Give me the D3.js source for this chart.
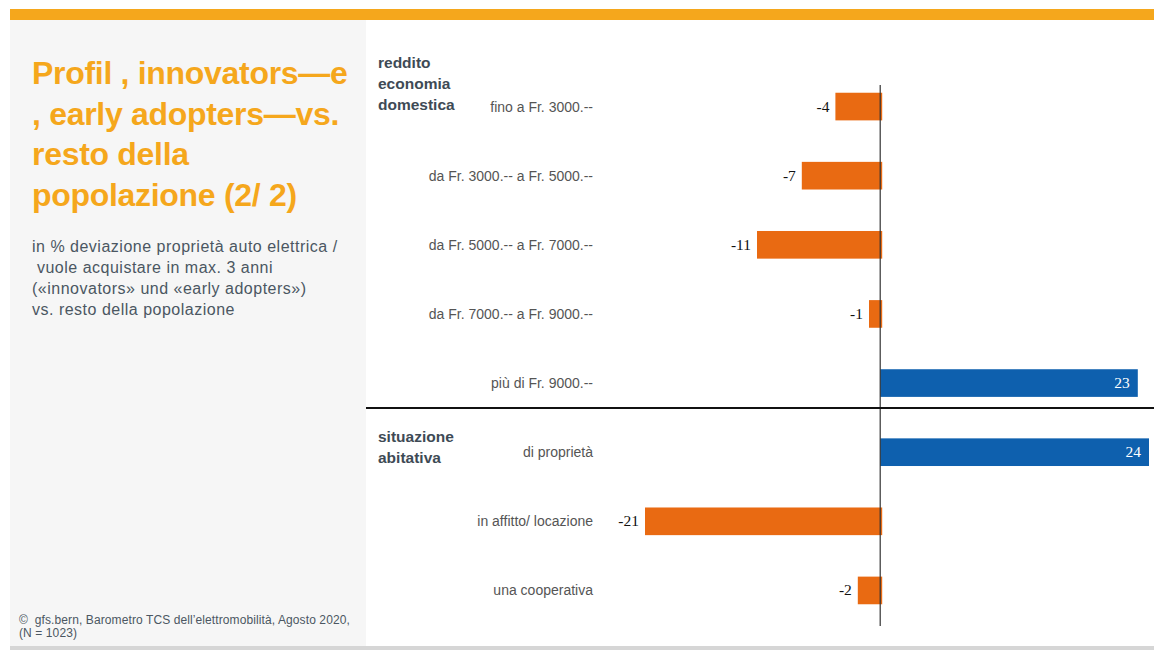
<!DOCTYPE html>
<html><head><meta charset="utf-8">
<script src="https://cdn.jsdelivr.net/npm/d3@7"></script>
<style>body{margin:0;background:#fff;}svg{display:block;}</style>
</head><body>
<script>
const categories = ["fino a Fr. 3000.--","da Fr. 3000.-- a Fr. 5000.--","da Fr. 5000.-- a Fr. 7000.--","da Fr. 7000.-- a Fr. 9000.--","più di Fr. 9000.--","di proprietà","in affitto/ locazione","una cooperativa"];
const values = [-4,-7,-11,-1,23,24,-21,-2];
const groups = [{lines:["reddito","economia","domestica"], first:0, anchorLine:2, dy:3},{lines:["situazione","abitativa"], first:5, anchorLine:0, dy:-10}];
const titleLines = ["Profil , innovators—e", ", early adopters—vs.", "resto della", "popolazione (2/ 2)"];
const subtitleLines = ["in % deviazione proprietà auto elettrica /", " vuole acquistare in max. 3 anni", "(«innovators» und «early adopters»)", "vs. resto della popolazione"];
const footerLines = ["©  gfs.bern, Barometro TCS dell’elettromobilità, Agosto 2020,", "(N = 1023)"];

const W=1154,H=650;
const svg=d3.select("body").append("svg").attr("width",W).attr("height",H);
svg.append("rect").attr("x",0).attr("y",0).attr("width",W).attr("height",H).attr("fill","#fff");
svg.append("rect").attr("x",10).attr("y",20).attr("width",356).attr("height",626).attr("fill","#f6f6f6");
svg.append("rect").attr("x",10).attr("y",9).attr("width",W-10).attr("height",11).attr("fill","#F5A71C");
svg.append("rect").attr("x",10).attr("y",646).attr("width",W-10).attr("height",4).attr("fill","#d6d6d6");

svg.append("g").selectAll("text").data(titleLines).join("text")
  .attr("x",32).attr("y",(d,i)=>84+i*40.5).text(d=>d)
  .attr("font-family","Liberation Sans, Arial, sans-serif").attr("font-weight","bold")
  .attr("font-size",32).attr("fill","#F5A71C").attr("letter-spacing",-0.3);
svg.append("g").selectAll("text").data(subtitleLines).join("text")
  .attr("x",32).attr("y",(d,i)=>252+i*21).text(d=>d)
  .style("white-space","pre")
  .attr("font-family","Liberation Sans, Arial, sans-serif")
  .attr("font-size",16).attr("letter-spacing",0.5).attr("fill","#4b5762");
svg.append("g").selectAll("text").data(footerLines).join("text")
  .attr("x",19).attr("y",(d,i)=>624+i*13).text(d=>d)
  .style("white-space","pre")
  .attr("font-family","Liberation Sans, Arial, sans-serif")
  .attr("font-size",12).attr("letter-spacing",0.1).attr("fill","#4b5762");

const x=d3.scaleLinear().domain([-21,24]).range([645,1149]);
const y=d3.scaleBand().domain(d3.range(categories.length)).range([72,625]).paddingInner(0.6).paddingOuter(0.3);
const idx=d3.range(categories.length);

svg.append("g").selectAll("rect").data(idx).join("rect")
  .attr("x",i=>values[i]<0?x(values[i]):x(0))
  .attr("width",i=>values[i]<0?x(0)-x(values[i])+2:x(values[i])-x(0))
  .attr("y",i=>y(i)).attr("height",y.bandwidth())
  .attr("fill",i=>values[i]<0?"#E96A12":"#0E60AE");

svg.append("line").attr("x1",x(0)).attr("x2",x(0)).attr("y1",85).attr("y2",626).attr("stroke","#333").attr("stroke-width",1.2);
svg.append("line").attr("x1",366).attr("x2",W).attr("y1",408).attr("y2",408).attr("stroke","#111").attr("stroke-width",1.8);

svg.append("g").selectAll("text").data(idx).join("text")
  .attr("x",i=>values[i]<0?x(values[i])-6:x(values[i])-8)
  .attr("y",i=>y(i)+y.bandwidth()/2+5)
  .attr("text-anchor","end")
  .attr("font-family","Liberation Serif, Times New Roman, serif").attr("font-size",15.5)
  .attr("fill",i=>values[i]<0?"#111":"#fff").text(i=>values[i]);

svg.append("g").selectAll("text").data(idx).join("text")
  .attr("x",593).attr("y",i=>y(i)+y.bandwidth()/2+5).attr("text-anchor","end")
  .attr("font-family","Liberation Sans, Arial, sans-serif").attr("font-size",14)
  .attr("fill","#555").text(i=>categories[i]);

groups.forEach(g=>{
  const base=y(g.first)+y.bandwidth()/2+g.dy;
  svg.append("g").selectAll("text").data(g.lines).join("text")
    .attr("x",378).attr("y",(d,i)=>base+(i-g.anchorLine)*21).text(d=>d)
    .attr("font-family","Liberation Sans, Arial, sans-serif").attr("font-weight","bold")
    .attr("font-size",15.5).attr("fill","#3e4a55");
});
</script>
</body></html>
